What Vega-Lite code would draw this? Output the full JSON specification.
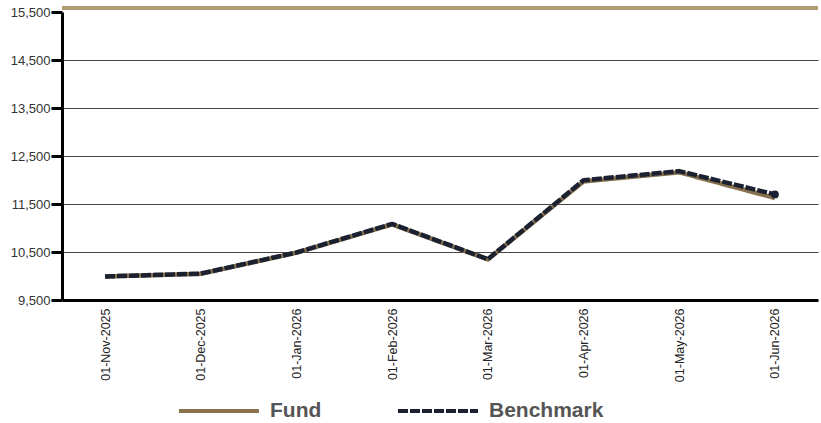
{
  "$schema": "https://vega.github.io/schema/vega-lite/v6.json",
  "width": 756,
  "height": 288,
  "autosize": "none",
  "padding": {"left": 62, "top": 12, "right": 3, "bottom": 123},
  "background": "white",
  "config": {
    "view": {"stroke": null},
    "font": "Liberation Sans"
  },
  "data": {
    "values": [
      {"date": "01-Nov-2025", "series": "Fund", "value": 9990},
      {"date": "01-Dec-2025", "series": "Fund", "value": 10045},
      {"date": "01-Jan-2026", "series": "Fund", "value": 10485},
      {"date": "01-Feb-2026", "series": "Fund", "value": 11075},
      {"date": "01-Mar-2026", "series": "Fund", "value": 10345},
      {"date": "01-Apr-2026", "series": "Fund", "value": 11970},
      {"date": "01-May-2026", "series": "Fund", "value": 12160},
      {"date": "01-Jun-2026", "series": "Fund", "value": 11625},
      {"date": "01-Nov-2025", "series": "Benchmark", "value": 9990},
      {"date": "01-Dec-2025", "series": "Benchmark", "value": 10050},
      {"date": "01-Jan-2026", "series": "Benchmark", "value": 10490},
      {"date": "01-Feb-2026", "series": "Benchmark", "value": 11085},
      {"date": "01-Mar-2026", "series": "Benchmark", "value": 10350},
      {"date": "01-Apr-2026", "series": "Benchmark", "value": 11995},
      {"date": "01-May-2026", "series": "Benchmark", "value": 12185},
      {"date": "01-Jun-2026", "series": "Benchmark", "value": 11700}
    ]
  },
  "layer": [
    {
      "mark": {"type": "rule", "color": "#b09a70", "strokeWidth": 3, "clip": false},
      "encoding": {"y": {"datum": 15590, "type": "quantitative"}}
    },
    {
      "mark": {"type": "line", "strokeWidth": 4.5, "strokeCap": "butt", "strokeJoin": "round"},
      "encoding": {
        "x": {
          "field": "date", "type": "ordinal", "sort": null,
          "scale": {"type": "point", "padding": 0.45},
          "axis": {
            "title": null, "labelAngle": -90, "labelFontSize": 12.5, "labelColor": "#222",
            "tickSize": 0, "labelPadding": 8, "domainColor": "#000", "domainWidth": 3, "grid": false
          }
        },
        "y": {
          "field": "value", "type": "quantitative",
          "scale": {"domain": [9500, 15500], "nice": false, "zero": false},
          "axis": {
            "title": null, "values": [9500, 10500, 11500, 12500, 13500, 14500, 15500],
            "format": ",d", "labelFontSize": 13, "labelColor": "#333", "labelPadding": 1,
            "tickSize": 11, "tickWidth": 3, "tickColor": "#000",
            "domainColor": "#000", "domainWidth": 3,
            "grid": true, "gridColor": {"condition": {"test": "datum.value == 15500 || datum.value == 9500", "value": "transparent"}, "value": "#444"},
            "gridWidth": 1
          }
        },
        "color": {
          "field": "series", "type": "nominal",
          "scale": {"domain": ["Fund", "Benchmark"], "range": ["#86704e", "#1b2130"]},
          "legend": {
            "title": " ", "titleOrient": "left", "titlePadding": 115, "titleFontSize": 1,
            "orient": "bottom", "direction": "horizontal", "offset": -13,
            "symbolType": "stroke", "symbolSize": 6400, "symbolStrokeWidth": 4,
            "labelFontSize": 21, "labelFontWeight": "bold", "labelColor": "#555",
            "labelOffset": 9, "columnPadding": 68
          }
        },
        "strokeDash": {
          "field": "series", "type": "nominal",
          "scale": {"domain": ["Fund", "Benchmark"], "range": [[1, 0], [10, 2]]},
          "legend": null
        }
      }
    },
    {
      "transform": [{"filter": "datum.series == 'Benchmark' && datum.date == '01-Jun-2026'"}],
      "mark": {"type": "point", "filled": true, "size": 60, "color": "#1b2130", "opacity": 1},
      "encoding": {
        "x": {"field": "date", "type": "ordinal", "sort": null},
        "y": {"field": "value", "type": "quantitative"}
      }
    }
  ]
}
